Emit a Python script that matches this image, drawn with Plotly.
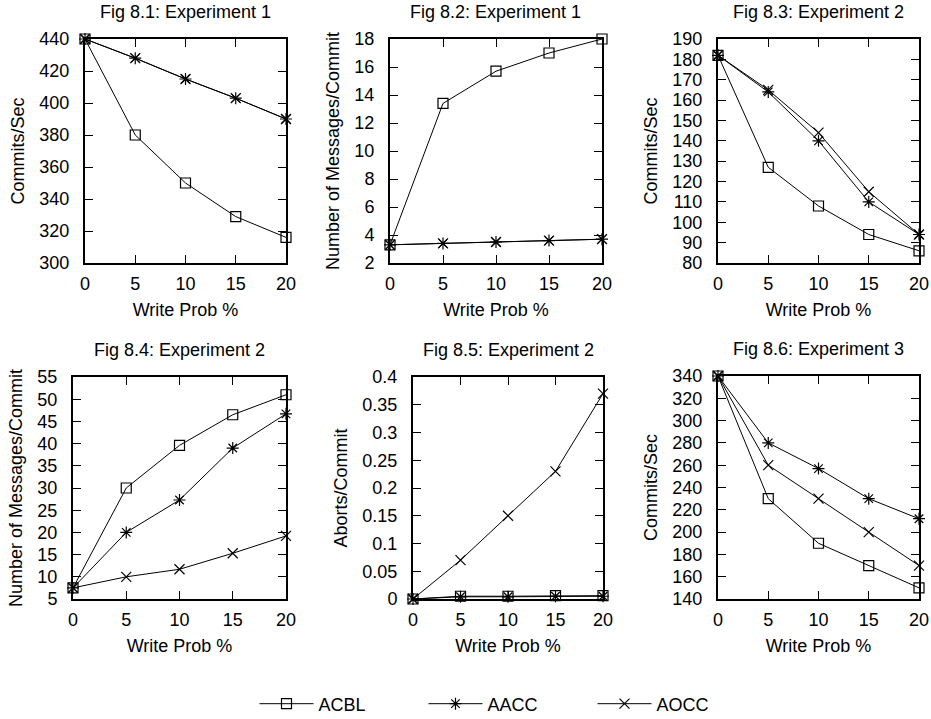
import plotly.graph_objects as go

W, H = 931, 719

write_prob = [0, 5, 10, 15, 20]
series_names = ["ACBL", "AACC", "AOCC"]

titles = ["Fig 8.1: Experiment 1", "Fig 8.2: Experiment 1", "Fig 8.3: Experiment 2",
          "Fig 8.4: Experiment 2", "Fig 8.5: Experiment 2", "Fig 8.6: Experiment 3"]
y_titles = ["Commits/Sec", "Number of Messages/Commit", "Commits/Sec",
            "Number of Messages/Commit", "Aborts/Commit", "Commits/Sec"]

# Fig 8.1
f1_acbl = [440, 380, 350, 329, 316]
f1_aacc = [440, 428, 415, 403, 390]
f1_aocc = [440, 428, 415, 403, 390]
# Fig 8.2
f2_acbl = [3.3, 13.4, 15.7, 17.0, 18.0]
f2_aacc = [3.3, 3.4, 3.5, 3.6, 3.7]
f2_aocc = [3.3, 3.4, 3.5, 3.6, 3.7]
# Fig 8.3
f3_acbl = [182, 127, 108, 94, 86]
f3_aacc = [182, 164, 140, 110, 94]
f3_aocc = [182, 165, 144, 115, 94]
# Fig 8.4
f4_acbl = [7.5, 30.0, 39.6, 46.5, 51.0]
f4_aacc = [7.5, 20.0, 27.3, 39.0, 46.7]
f4_aocc = [7.5, 10.0, 11.7, 15.3, 19.2]
# Fig 8.5
f5_acbl = [0, 0.005, 0.005, 0.006, 0.006]
f5_aacc = [0, 0.004, 0.004, 0.005, 0.005]
f5_aocc = [0, 0.07, 0.15, 0.23, 0.37]
# Fig 8.6
f6_acbl = [340, 230, 190, 170, 150]
f6_aacc = [340, 280, 257, 230, 212]
f6_aocc = [340, 260, 230, 200, 170]

data = [
    (f1_acbl, f1_aacc, f1_aocc),
    (f2_acbl, f2_aacc, f2_aocc),
    (f3_acbl, f3_aacc, f3_aocc),
    (f4_acbl, f4_aacc, f4_aocc),
    (f5_acbl, f5_aacc, f5_aocc),
    (f6_acbl, f6_aacc, f6_aocc),
]
y_ranges = [(300, 440), (2, 18), (80, 190), (5, 55), (0, 0.4), (140, 340)]
y_dticks = [20, 2, 10, 5, 0.05, 20]

# plot-area pixel boxes (x0, x1, ytop, ybottom)
boxes = [(85, 286, 39, 263), (390, 602, 39, 263), (718, 919, 39, 263),
         (73, 286, 377, 599), (413, 603, 377, 599), (718, 919, 376, 599)]

symbols = ["square-open", "asterisk-open", "x-thin-open"]
FONT = "Liberation Sans, Arial, sans-serif"
FS = 18

fig = go.Figure()
layout = {}
annotations = []
for i in range(6):
    n = i + 1
    xa = "x" if n == 1 else f"x{n}"
    ya = "y" if n == 1 else f"y{n}"
    x0, x1, yt, yb = boxes[i]
    for j, name in enumerate(series_names):
        fig.add_trace(go.Scatter(
            x=write_prob, y=data[i][j], name=name, mode="lines+markers",
            xaxis=xa, yaxis=ya, legendgroup=name, showlegend=(i == 0),
            line=dict(color="black", width=1),
            marker=dict(symbol=symbols[j], size=10, color="black",
                        line=dict(color="black", width=1.2)),
            cliponaxis=False,
        ))
    common = dict(showline=True, linecolor="black", linewidth=2, mirror="allticks",
                  ticks="inside", ticklen=8, tickwidth=1.4, tickcolor="black",
                  showgrid=False, zeroline=False, automargin=False,
                  tickfont=dict(family=FONT, size=FS, color="black"))
    layout[f"xaxis{'' if n == 1 else n}"] = dict(
        domain=[x0 / W, x1 / W], range=[0, 20], dtick=5, tick0=0,
        anchor=ya, ticklabelstandoff=3,
        title=dict(text="Write Prob %", standoff=11,
                   font=dict(family=FONT, size=FS, color="black")),
        **common)
    layout[f"yaxis{'' if n == 1 else n}"] = dict(
        domain=[1 - yb / H, 1 - yt / H], range=list(y_ranges[i]), dtick=y_dticks[i],
        tick0=y_ranges[i][0], anchor=xa, ticklabelstandoff=10,
        title=dict(text=y_titles[i], standoff=10,
                   font=dict(family=FONT, size=FS, color="black")),
        **common)
    annotations.append(dict(
        text=titles[i], xref="paper", yref="paper", x=(x0 + x1) / 2 / W,
        y=1 - (yt - 27) / H, xanchor="center", yanchor="middle", showarrow=False,
        font=dict(family=FONT, size=FS, color="black")))

fig.update_layout(
    template="none",
    width=W, height=H, margin=dict(l=0, r=0, t=0, b=0, autoexpand=False),
    paper_bgcolor="white", plot_bgcolor="white",
    font=dict(family=FONT, size=FS, color="black"),
    annotations=annotations,
    showlegend=True,
    legend=dict(orientation="h", xref="container", yref="container",
                x=508 / W, xanchor="center", y=1 - 704 / H, yanchor="middle",
                font=dict(family=FONT, size=FS, color="black"), itemwidth=54,
                entrywidth=100, bgcolor="rgba(0,0,0,0)"),
    **layout,
)
fig.write_html("out.html", config={"displayModeBar": False},
               post_script="document.body.style.margin='0';document.body.style.overflow='hidden';")
